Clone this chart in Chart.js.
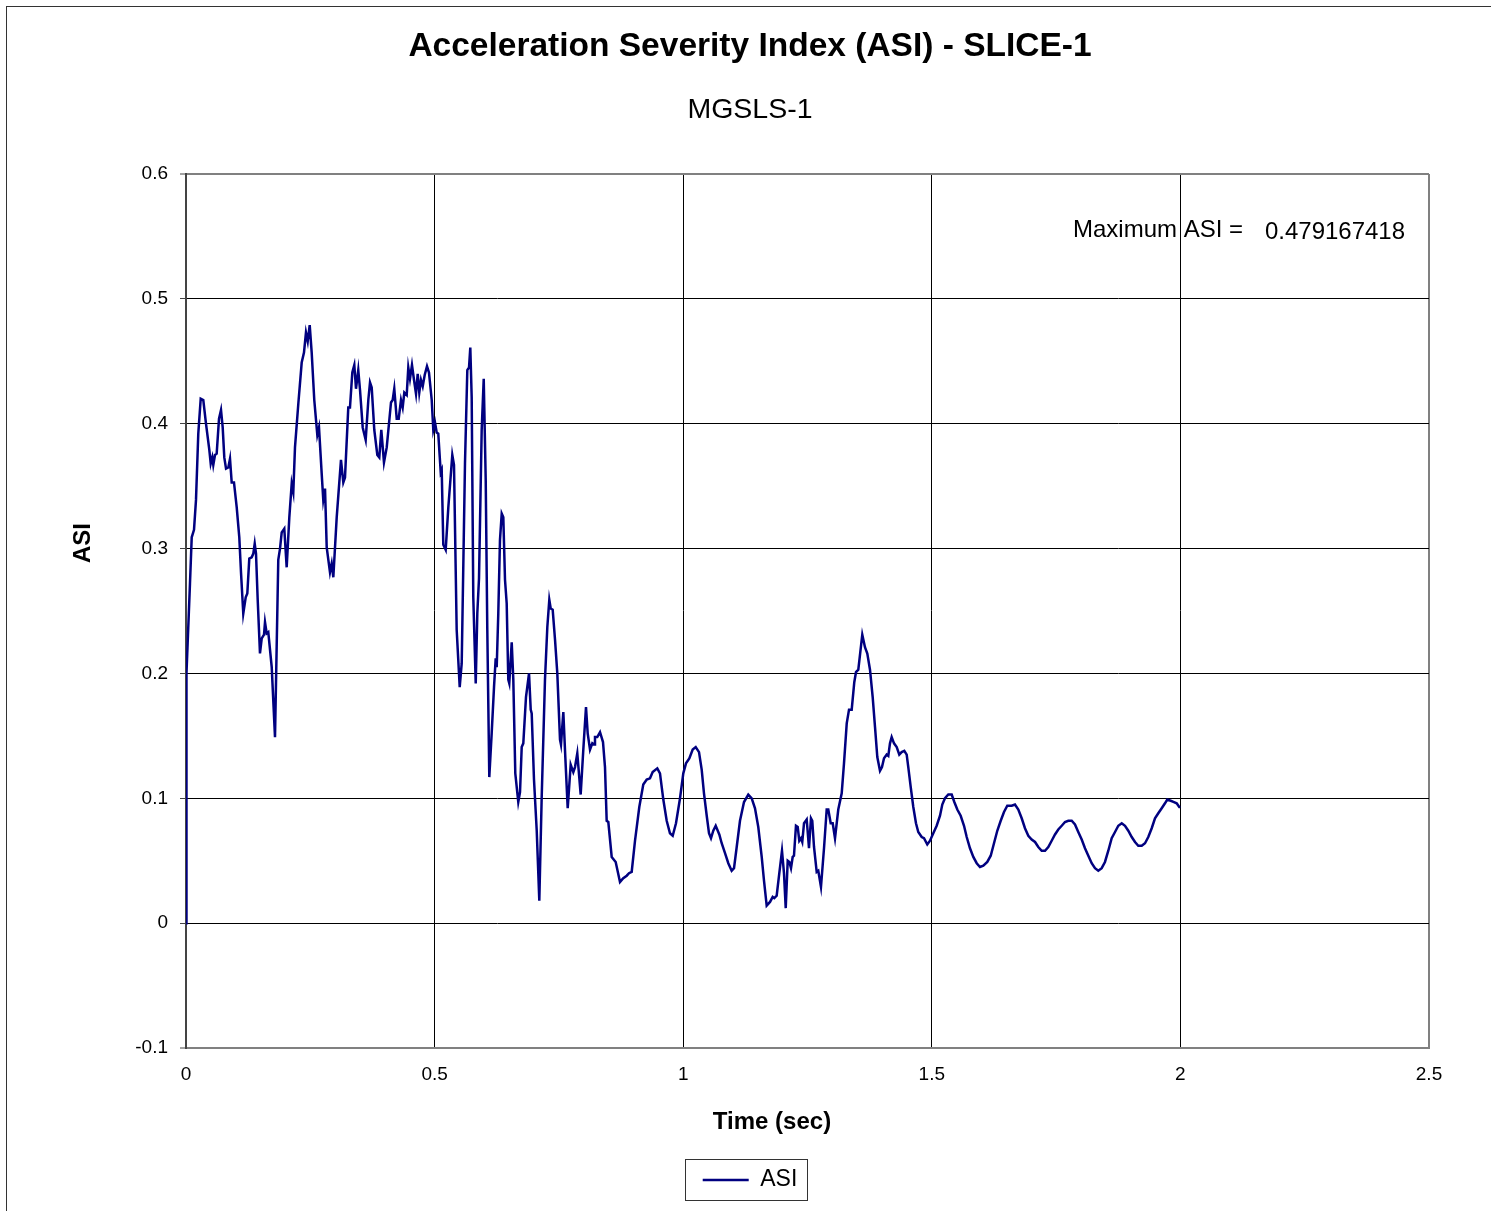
<!DOCTYPE html>
<html>
<head>
<meta charset="utf-8">
<title>Acceleration Severity Index (ASI) - SLICE-1</title>
<script src="https://cdn.jsdelivr.net/npm/chart.js@4.4.1/dist/chart.umd.min.js"></script>
<style>
  html, body { margin: 0; padding: 0; background: #fff; }
  canvas { display: block; }
</style>
</head>
<body>
<canvas id="asiChart" width="1491" height="1211"></canvas>
<script>
// time (sec)
const timeSec = [
  0, 0.0005, 0.0014, 0.008, 0.0115, 0.0161, 0.0201, 0.0247, 0.0296, 0.0348,
  0.0402, 0.0469, 0.0497, 0.0529, 0.0549, 0.0583, 0.0617, 0.0664, 0.0704, 0.0738,
  0.0770, 0.0805, 0.0851, 0.0885, 0.0919, 0.0965, 0.1020, 0.1072, 0.1106, 0.1152,
  0.1201, 0.1233, 0.1273, 0.1321, 0.1354, 0.1382, 0.1408, 0.1442, 0.1488, 0.1523,
  0.1569, 0.1589, 0.1623, 0.1655, 0.1724, 0.1790, 0.1856, 0.1891, 0.1925, 0.1977,
  0.2025, 0.2078, 0.2126, 0.2158, 0.2192, 0.2259, 0.2327, 0.2373, 0.2413, 0.2448,
  0.2488, 0.2528, 0.2580, 0.2641, 0.2675, 0.2729, 0.2761, 0.2796, 0.2830, 0.2896,
  0.2930, 0.2963, 0.3031, 0.3117, 0.3164, 0.3198, 0.3264, 0.3298, 0.3345, 0.3385,
  0.3419, 0.3465, 0.3500, 0.3554, 0.3614, 0.3667, 0.3701, 0.3735, 0.3787, 0.3848,
  0.3888, 0.3928, 0.3982, 0.4037, 0.4123, 0.4157, 0.4189, 0.4238, 0.4278, 0.4324,
  0.4358, 0.4391, 0.4439, 0.4471, 0.4505, 0.4545, 0.4586, 0.4626, 0.4660, 0.4692,
  0.4726, 0.4761, 0.4801, 0.4847, 0.4887, 0.4942, 0.4974, 0.5008, 0.5042, 0.5074,
  0.5123, 0.5143, 0.5175, 0.5223, 0.5276, 0.5356, 0.5390, 0.5444, 0.5505, 0.5545,
  0.5611, 0.5658, 0.5692, 0.5718, 0.5746, 0.5778, 0.5827, 0.5859, 0.5893, 0.5947,
  0.5988, 0.6028, 0.6060, 0.6100, 0.6148, 0.6195, 0.6229, 0.6249, 0.6281, 0.6315,
  0.6350, 0.6382, 0.6416, 0.6450, 0.6482, 0.6502, 0.6551, 0.6583, 0.6623, 0.6683,
  0.6718, 0.6752, 0.6784, 0.6838, 0.6899, 0.6933, 0.6953, 0.6999, 0.7054, 0.7106,
  0.7154, 0.7220, 0.7267, 0.7307, 0.7335, 0.7375, 0.7422, 0.7468, 0.7522, 0.7542,
  0.7589, 0.7629, 0.7677, 0.7737, 0.7790, 0.7824, 0.7870, 0.7938, 0.7991, 0.8045,
  0.8079, 0.8126, 0.8172, 0.8206, 0.8226, 0.8272, 0.8327, 0.8387, 0.8427, 0.8461,
  0.8494, 0.8562, 0.8642, 0.8729, 0.8795, 0.8864, 0.8910, 0.8964, 0.9031, 0.9117,
  0.9197, 0.9266, 0.9332, 0.9386, 0.9479, 0.9533, 0.9600, 0.9668, 0.9734, 0.9789,
  0.9855, 0.9936, 1.0002, 1.0056, 1.0123, 1.0191, 1.0252, 1.0318, 1.0372, 1.0418,
  1.0473, 1.0519, 1.0559, 1.0605, 1.0654, 1.0726, 1.0774, 1.0841, 1.0907, 1.0975,
  1.1022, 1.1076, 1.1142, 1.1223, 1.1309, 1.1378, 1.1444, 1.1510, 1.1579, 1.1625,
  1.1679, 1.1746, 1.1800, 1.1832, 1.1880, 1.1933, 1.1987, 1.2027, 1.2062, 1.2102,
  1.2134, 1.2168, 1.2202, 1.2228, 1.2268, 1.2303, 1.2335, 1.2369, 1.2395, 1.2430,
  1.2484, 1.2530, 1.2570, 1.2596, 1.2631, 1.2685, 1.2717, 1.2771, 1.2832, 1.2886,
  1.2918, 1.2967, 1.3007, 1.3053, 1.3119, 1.3188, 1.3234, 1.3289, 1.3335, 1.3389,
  1.3441, 1.3475, 1.3522, 1.3562, 1.3602, 1.3656, 1.3703, 1.3757, 1.3811, 1.3858,
  1.3904, 1.3958, 1.3998, 1.4039, 1.4093, 1.4125, 1.4159, 1.4193, 1.4240, 1.4294,
  1.4346, 1.4394, 1.4447, 1.4495, 1.4527, 1.4576, 1.4628, 1.4682, 1.4728, 1.4797,
  1.4843, 1.4909, 1.4964, 1.5030, 1.5098, 1.5165, 1.5211, 1.5265, 1.5332, 1.5400,
  1.5453, 1.5513, 1.5581, 1.5648, 1.5702, 1.5768, 1.5835, 1.5903, 1.5969, 1.6036,
  1.6116, 1.6185, 1.6251, 1.6317, 1.6386, 1.6452, 1.6518, 1.6607, 1.6673, 1.6740,
  1.6808, 1.6874, 1.6941, 1.7009, 1.7076, 1.7142, 1.7210, 1.7277, 1.7343, 1.7411,
  1.7478, 1.7544, 1.7613, 1.7679, 1.7745, 1.7814, 1.7880, 1.7946, 1.8015, 1.8081,
  1.8148, 1.8216, 1.8282, 1.8349, 1.8417, 1.8483, 1.8550, 1.8618, 1.8685, 1.8751,
  1.8820, 1.8886, 1.8952, 1.9021, 1.9087, 1.9153, 1.9222, 1.9288, 1.9354, 1.9423,
  1.9489, 1.9555, 1.9624, 1.9690, 1.9736, 1.9805, 1.9871, 1.9925, 1.9977, 2.0
];

// ASI values, same order as timeSec
const asiValues = [
  0, 0.147, 0.200, 0.272, 0.309, 0.315, 0.339, 0.392, 0.420, 0.419,
  0.400, 0.379, 0.368, 0.373, 0.367, 0.375, 0.376, 0.404, 0.411, 0.397,
  0.373, 0.364, 0.365, 0.372, 0.353, 0.353, 0.333, 0.309, 0.281, 0.248,
  0.261, 0.264, 0.292, 0.293, 0.296, 0.304, 0.296, 0.259, 0.216, 0.228,
  0.231, 0.241, 0.232, 0.233, 0.205, 0.149, 0.291, 0.300, 0.313, 0.316,
  0.285, 0.325, 0.352, 0.345, 0.381, 0.416, 0.449, 0.457, 0.473, 0.466,
  0.479, 0.457, 0.419, 0.391, 0.397, 0.360, 0.339, 0.348, 0.301, 0.281,
  0.288, 0.277, 0.325, 0.371, 0.353, 0.357, 0.413, 0.413, 0.441, 0.447,
  0.428, 0.443, 0.427, 0.397, 0.387, 0.419, 0.433, 0.429, 0.395, 0.375,
  0.373, 0.395, 0.369, 0.381, 0.417, 0.419, 0.428, 0.404, 0.404, 0.419,
  0.413, 0.425, 0.423, 0.445, 0.436, 0.447, 0.435, 0.424, 0.440, 0.425,
  0.435, 0.430, 0.439, 0.446, 0.441, 0.419, 0.395, 0.401, 0.393, 0.392,
  0.361, 0.363, 0.303, 0.299, 0.333, 0.375, 0.367, 0.235, 0.189, 0.208,
  0.368, 0.443, 0.445, 0.461, 0.421, 0.261, 0.192, 0.248, 0.276, 0.395,
  0.436, 0.355, 0.235, 0.117, 0.152, 0.189, 0.212, 0.205, 0.248, 0.307,
  0.328, 0.325, 0.275, 0.256, 0.195, 0.192, 0.225, 0.195, 0.120, 0.097,
  0.105, 0.141, 0.144, 0.181, 0.200, 0.171, 0.168, 0.115, 0.074, 0.018,
  0.101, 0.195, 0.237, 0.259, 0.252, 0.251, 0.227, 0.200, 0.147, 0.143,
  0.169, 0.133, 0.092, 0.127, 0.121, 0.125, 0.136, 0.103, 0.139, 0.173,
  0.152, 0.139, 0.144, 0.143, 0.149, 0.149, 0.153, 0.145, 0.125, 0.082,
  0.081, 0.053, 0.049, 0.033, 0.036, 0.038, 0.040, 0.041, 0.066, 0.093,
  0.111, 0.115, 0.116, 0.121, 0.124, 0.120, 0.099, 0.082, 0.072, 0.070,
  0.080, 0.100, 0.120, 0.128, 0.132, 0.139, 0.141, 0.137, 0.123, 0.104,
  0.086, 0.072, 0.068, 0.074, 0.078, 0.071, 0.064, 0.056, 0.048, 0.042,
  0.044, 0.061, 0.082, 0.097, 0.103, 0.100, 0.092, 0.077, 0.053, 0.034,
  0.014, 0.017, 0.021, 0.020, 0.022, 0.040, 0.058, 0.040, 0.012, 0.050,
  0.049, 0.044, 0.053, 0.054, 0.078, 0.077, 0.066, 0.068, 0.065, 0.080,
  0.083, 0.060, 0.084, 0.082, 0.061, 0.041, 0.042, 0.029, 0.060, 0.091,
  0.091, 0.080, 0.080, 0.068, 0.091, 0.104, 0.128, 0.160, 0.171, 0.171,
  0.193, 0.201, 0.203, 0.217, 0.231, 0.221, 0.216, 0.203, 0.181, 0.157,
  0.133, 0.122, 0.125, 0.132, 0.135, 0.134, 0.144, 0.149, 0.144, 0.141,
  0.135, 0.137, 0.138, 0.135, 0.125, 0.109, 0.093, 0.080, 0.073, 0.069,
  0.068, 0.063, 0.066, 0.072, 0.078, 0.086, 0.095, 0.100, 0.103, 0.103,
  0.097, 0.091, 0.086, 0.078, 0.069, 0.060, 0.053, 0.048, 0.045, 0.046,
  0.049, 0.054, 0.064, 0.074, 0.082, 0.089, 0.094, 0.094, 0.095, 0.091,
  0.084, 0.076, 0.070, 0.067, 0.065, 0.061, 0.058, 0.058, 0.061, 0.066,
  0.071, 0.075, 0.078, 0.081, 0.082, 0.082, 0.079, 0.073, 0.067, 0.060,
  0.054, 0.048, 0.044, 0.042, 0.044, 0.049, 0.058, 0.068, 0.073, 0.078,
  0.080, 0.078, 0.074, 0.069, 0.065, 0.062, 0.062, 0.064, 0.069, 0.076,
  0.084, 0.088, 0.092, 0.096, 0.099, 0.098, 0.097, 0.096, 0.093, 0.093
];

const xTicks = [0, 0.5, 1, 1.5, 2, 2.5];
const yTicks = [-0.1, 0, 0.1, 0.2, 0.3, 0.4, 0.5, 0.6];
const maxAsi = 0.479167418;

const FONT = '"Liberation Sans", Arial, Helvetica, sans-serif';
Chart.defaults.font.family = FONT;
Chart.defaults.color = "#000";

const points = timeSec.map((t, i) => ({ x: t, y: asiValues[i] }));

const isEnd = (v, list) =>
  Math.abs(v - list[0]) < 1e-9 || Math.abs(v - list[list.length - 1]) < 1e-9;

// white page, outer frame, axis titles, legend box and the "Maximum ASI" note
const extras = {
  id: "extras",
  beforeDraw(chart) {
    const ctx = chart.ctx;
    ctx.save();
    ctx.fillStyle = "#fff";
    ctx.fillRect(0, 0, chart.width, chart.height);
    ctx.strokeStyle = "#333";
    ctx.lineWidth = 1;
    ctx.strokeRect(6.5, 6.5, chart.width + 20, chart.height + 20);
    ctx.restore();
  },
  afterDraw(chart) {
    const ctx = chart.ctx;
    const { x, y } = chart.scales;
    ctx.save();
    ctx.fillStyle = "#000";

    // axis titles (Excel puts them a bit off the plot centre)
    ctx.font = "bold 24px " + FONT;
    ctx.textAlign = "center";
    ctx.textBaseline = "middle";
    ctx.fillText("Time (sec)", 772, 1122);
    ctx.save();
    ctx.translate(83, 543);
    ctx.rotate(-Math.PI / 2);
    ctx.fillText("ASI", 0, 0);
    ctx.restore();

    ctx.font = "24px " + FONT;
    ctx.textBaseline = "alphabetic";
    ctx.textAlign = "left";
    ctx.fillText("Maximum ASI =", x.getPixelForValue(1.784), y.getPixelForValue(0.5494));
    ctx.fillText(String(maxAsi), x.getPixelForValue(2.170), y.getPixelForValue(0.5478));

    const hb = chart.legend.legendHitBoxes[0];
    if (hb) {
      const yc = hb.top + hb.height / 2;
      ctx.strokeStyle = "#333";
      ctx.lineWidth = 1;
      ctx.strokeRect(Math.round(hb.left - 18) + 0.5, Math.round(yc - 21) + 0.5,
        Math.round(hb.width + 27), 41);
    }
    ctx.restore();
  }
};

new Chart(document.getElementById("asiChart"), {
  type: "scatter",
  data: {
    datasets: [{
      label: "ASI",
      data: points,
      showLine: true,
      borderColor: "#000080",
      backgroundColor: "#000080",
      borderWidth: 2.5,
      pointRadius: 0,
      pointHoverRadius: 0,
      tension: 0
    }]
  },
  options: {
    responsive: false,
    animation: false,
    layout: { padding: { left: 71, right: 62, top: 6, bottom: 9.5 } },
    plugins: {
      title: {
        display: true,
        text: "Acceleration Severity Index (ASI) - SLICE-1",
        font: { size: 33.5, weight: "bold" },
        padding: { top: 20.5, bottom: 0 }
      },
      subtitle: {
        display: true,
        text: "MGSLS-1",
        font: { size: 28.5, weight: "normal" },
        padding: { top: 26.2, bottom: 46.9 }
      },
      legend: {
        position: "bottom",
        labels: {
          usePointStyle: true,
          pointStyle: "line",
          pointStyleWidth: 46,
          padding: 10,
          font: { size: 23 },
          color: "#000"
        }
      },
      tooltip: { enabled: false }
    },
    scales: {
      x: {
        type: "linear",
        min: xTicks[0],
        max: xTicks[xTicks.length - 1],
        afterBuildTicks: (scale) => { scale.ticks = xTicks.map((v) => ({ value: v })); },
        afterFit: (scale) => { scale.height = 110.5; },
        ticks: {
          padding: 15,
          font: { size: 19 },
          callback: (v) => String(v)
        },
        grid: {
          drawTicks: false,
          color: (c) => (c.index === 0 ? "#444" : isEnd(c.tick.value, xTicks) ? "#808080" : "#000"),
          lineWidth: (c) => (isEnd(c.tick.value, xTicks) ? 2 : 1)
        },
        border: { color: "#808080", width: 2 },
        title: { display: false }
      },
      y: {
        min: yTicks[0],
        max: yTicks[yTicks.length - 1],
        afterBuildTicks: (scale) => { scale.ticks = yTicks.map((v) => ({ value: v })); },
        afterFit: (scale) => { scale.width = 115; },
        ticks: {
          padding: 12,
          font: { size: 19 },
          callback: (v) => String(Math.round(v * 10) / 10)
        },
        grid: {
          tickLength: 6,
          tickColor: "#444",
          tickWidth: 1,
          color: (c) => (isEnd(c.tick.value, yTicks) ? "#808080" : "#000"),
          lineWidth: (c) => (isEnd(c.tick.value, yTicks) ? 2 : 1)
        },
        border: { color: "#444", width: 2 },
        title: { display: false }
      }
    }
  },
  plugins: [extras]
});
</script>
</body>
</html>
